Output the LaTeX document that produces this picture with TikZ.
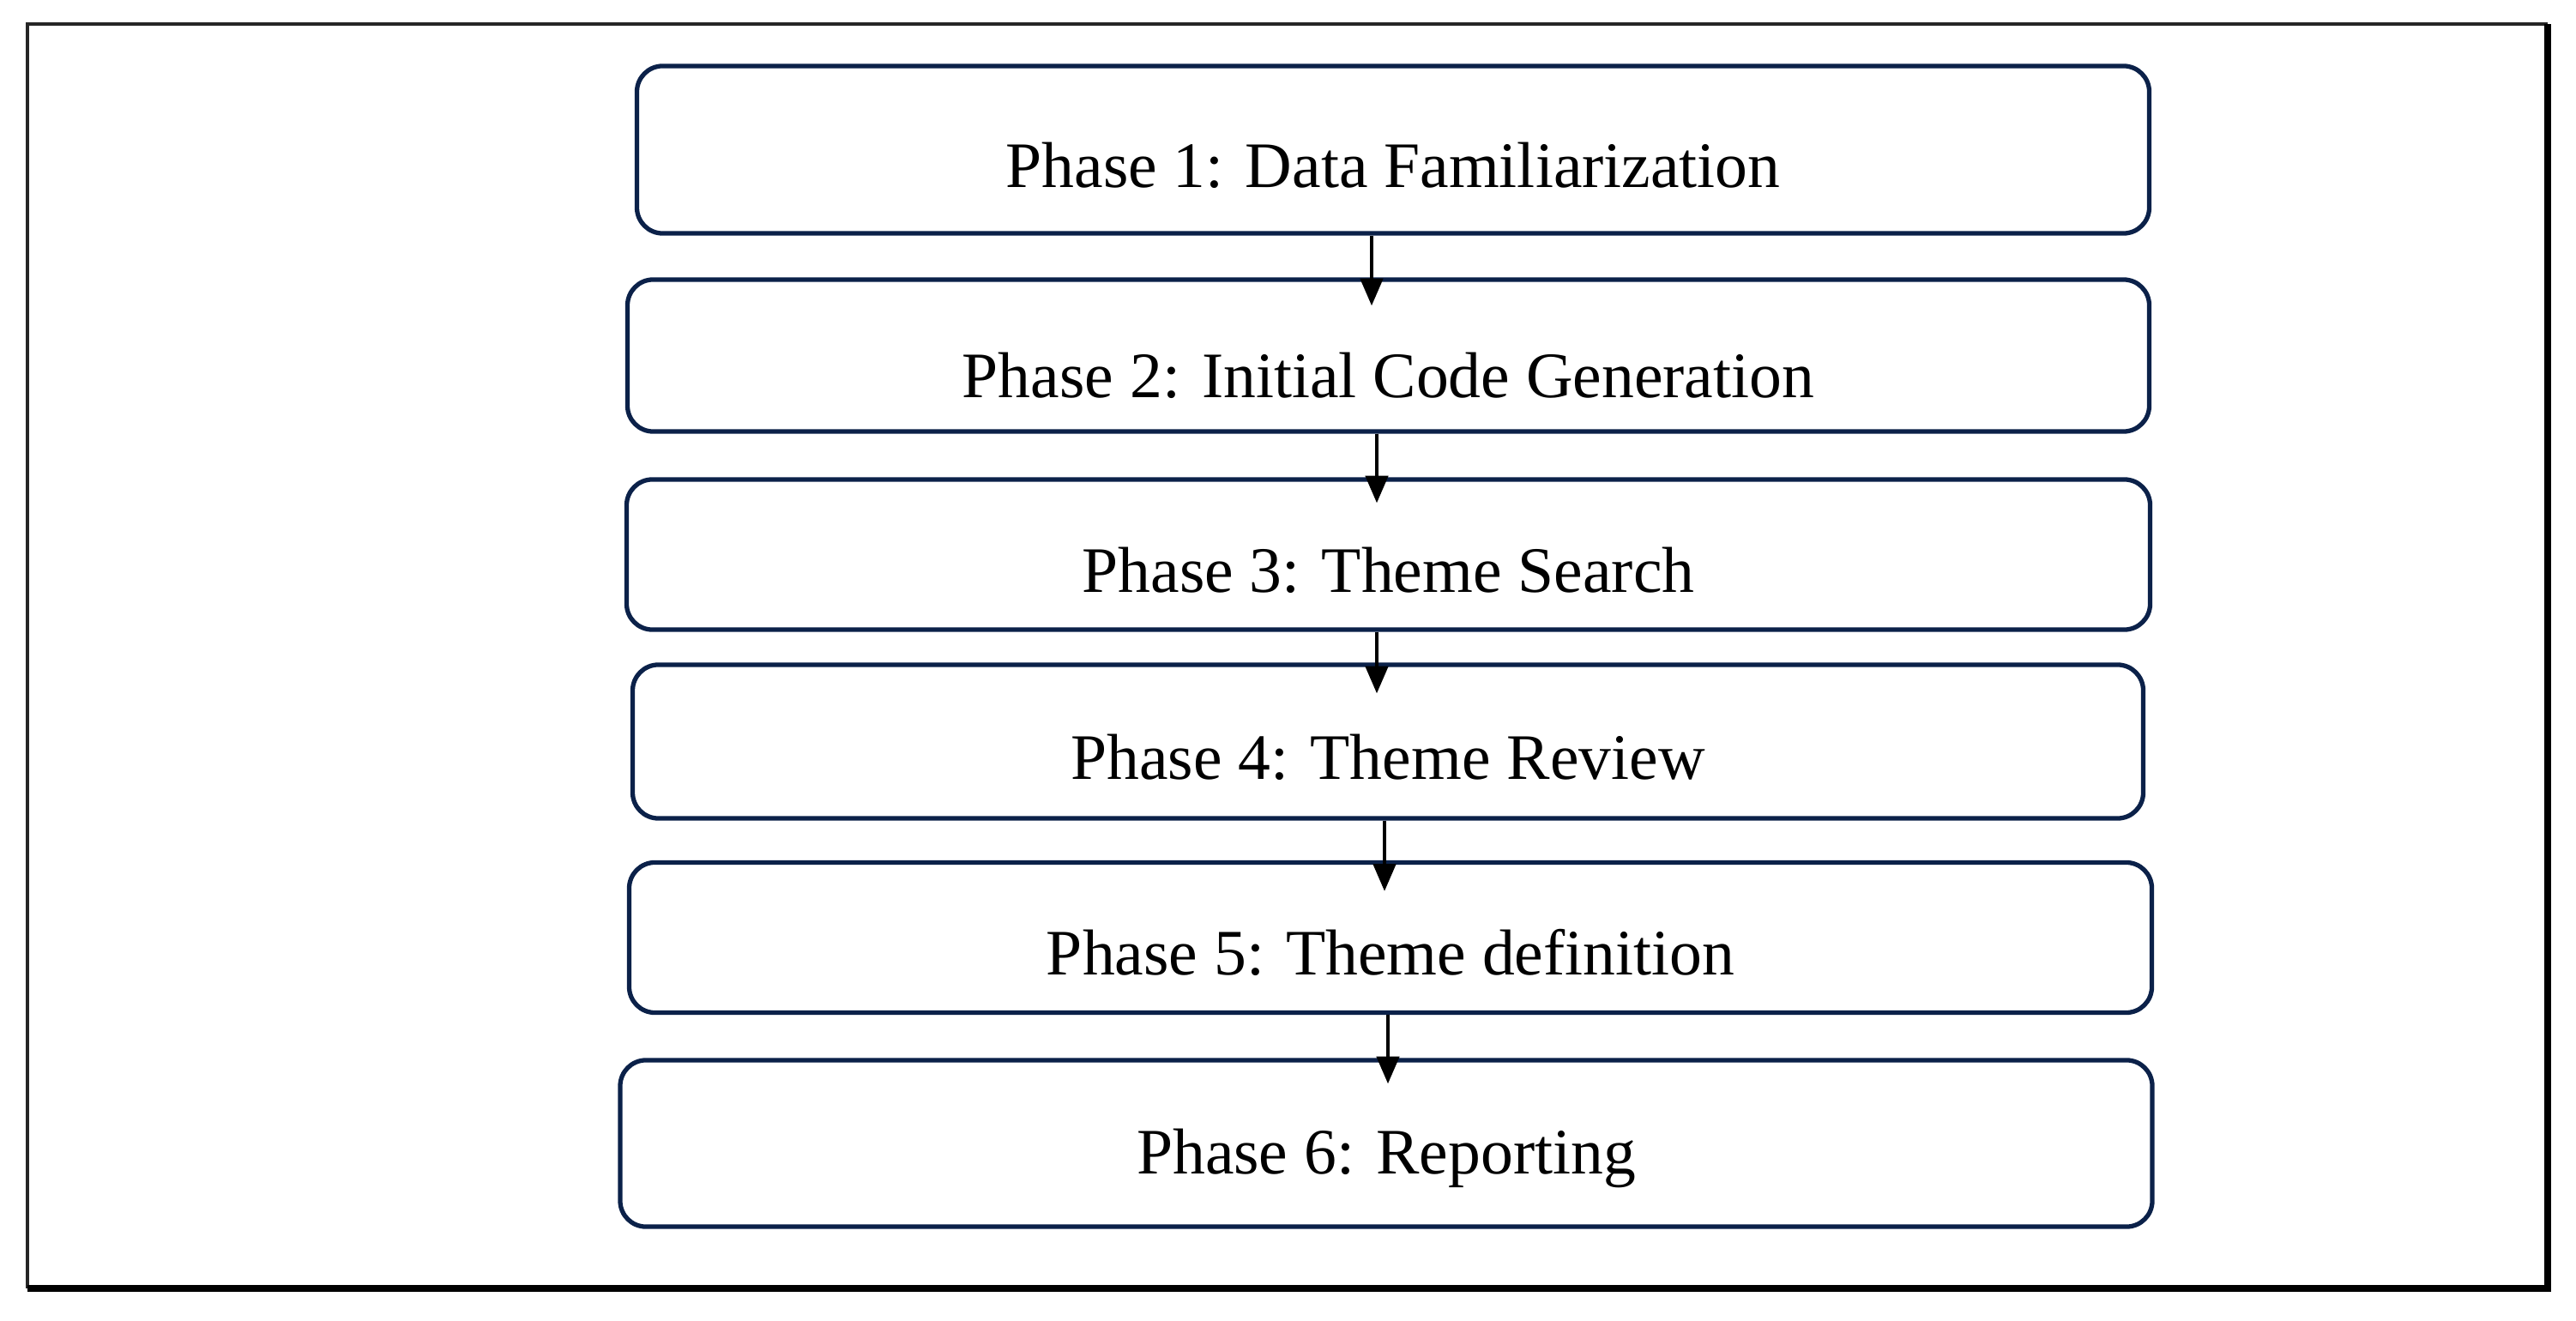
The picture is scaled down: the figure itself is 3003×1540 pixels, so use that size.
\documentclass[tikz,border=0pt]{standalone}
\usepackage{fontspec}
\setmainfont{Liberation Serif}
\usetikzlibrary{arrows.meta,calc}
\definecolor{navy}{HTML}{0B2149}
\begin{document}
\begin{tikzpicture}[x=0.01cm,y=-0.01cm,
  phasebox/.style={draw=navy,line width=1.5pt,rounded corners=0.3cm,fill=white,
    inner sep=0pt,text height=25pt,text depth=0pt,
    font=\fontsize{21.5}{24}\selectfont},
  flow/.style={draw=black,line width=1pt,-{Triangle[length=9pt,width=7.5pt]}}]
\useasboundingbox (0,0) rectangle (3003,1540);
% outer frame
\draw[line width=1.1pt,draw=black!85] (32,28) rectangle (2968,1500);
\draw[line width=2.3pt,draw=black] (32,1502) -- (2970,1502) -- (2970,28);
% boxes
\node[phasebox,minimum width=17.62cm,minimum height=1.95cm] (b1) at (1624,174.5) {Phase 1: Data Familiarization};
\node[phasebox,minimum width=17.73cm,minimum height=1.77cm,text height=28pt] (b2) at (1618.5,414.5) {Phase 2: Initial Code Generation};
\node[phasebox,minimum width=17.75cm,minimum height=1.75cm] (b3) at (1618.5,646.5) {Phase 3: Theme Search};
\node[phasebox,minimum width=17.60cm,minimum height=1.79cm] (b4) at (1618,864.5) {Phase 4: Theme Review};
\node[phasebox,minimum width=17.74cm,minimum height=1.75cm] (b5) at (1621,1093) {Phase 5: Theme definition};
\node[phasebox,minimum width=17.85cm,minimum height=1.94cm,text height=20pt] (b6) at (1616,1333) {Phase 6: Reporting};
% arrow anchors
\coordinate (a1) at (1599,0);
\coordinate (a2) at (1605,0);
\coordinate (a3) at (1605,0);
\coordinate (a4) at (1614,0);
\coordinate (a5) at (1618,0);
\draw[flow] (b1.south -| a1) -- ($(b2.north -| a1)+(0,33)$);
\draw[flow] (b2.south -| a2) -- ($(b3.north -| a2)+(0,30)$);
\draw[flow] (b3.south -| a3) -- ($(b4.north -| a3)+(0,36)$);
\draw[flow] (b4.south -| a4) -- ($(b5.north -| a4)+(0,36)$);
\draw[flow] (b5.south -| a5) -- ($(b6.north -| a5)+(0,30)$);
\end{tikzpicture}
\end{document}
